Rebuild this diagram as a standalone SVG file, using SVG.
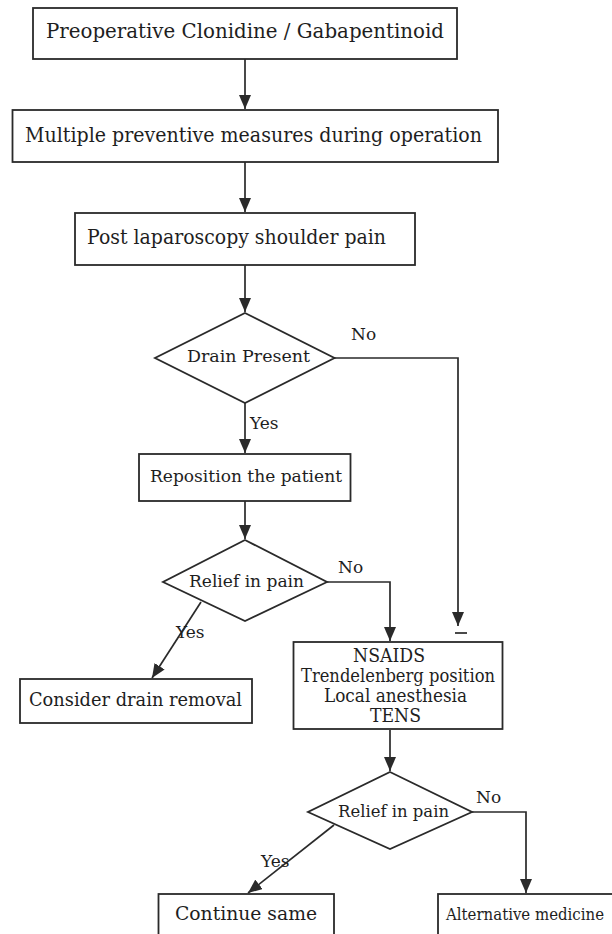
<svg xmlns="http://www.w3.org/2000/svg" width="612" height="934" viewBox="0 0 612 934">
<defs>
<marker id="ah" markerUnits="userSpaceOnUse" markerWidth="15" markerHeight="12" refX="14" refY="6" orient="auto">
<path d="M0,0 L14,6 L0,12 z" fill="#2a2a2a"/>
</marker>
<style>
.box{fill:#fff;stroke:#2a2a2a;stroke-width:1.8}
.t{font-family:"DejaVu Serif","Liberation Serif",serif;font-size:17px;fill:#1e1e1e}
.big{font-size:20px}
.mid{font-size:18px}
.c{fill:none;stroke:#2a2a2a;stroke-width:1.7}
</style>
</defs>
<rect width="612" height="934" fill="#fff"/>
<g id="connectors">
<path class="c" d="M245,58 V109" marker-end="url(#ah)"/>
<path class="c" d="M245,162 V212" marker-end="url(#ah)"/>
<path class="c" d="M245,265 V312" marker-end="url(#ah)"/>
<path class="c" d="M334,358 H458 V626" marker-end="url(#ah)"/>
<path class="c" d="M455,633 H467"/>
<path class="c" d="M245,403 V453" marker-end="url(#ah)"/>
<path class="c" d="M245,501 V539" marker-end="url(#ah)"/>
<path class="c" d="M327,582 H390 V641" marker-end="url(#ah)"/>
<path class="c" d="M201,602 L152,678" marker-end="url(#ah)"/>
<path class="c" d="M390,730 V771" marker-end="url(#ah)"/>
<path class="c" d="M472,812 H526 V893" marker-end="url(#ah)"/>
<path class="c" d="M334,825 L248,893" marker-end="url(#ah)"/>
<text class="t" x="351" y="340">No</text>
<text class="t" x="250" y="429">Yes</text>
<text class="t" x="338" y="573">No</text>
<text class="t" x="176" y="638">Yes</text>
<text class="t" x="476" y="803">No</text>
<text class="t" x="261" y="867">Yes</text>
</g>
<g id="n1">
<rect class="box" x="33" y="8" width="424" height="51"/>
<text class="t big" x="46" y="38" textLength="398" lengthAdjust="spacingAndGlyphs">Preoperative Clonidine / Gabapentinoid</text>
</g>
<g id="n2">
<rect class="box" x="12.5" y="110" width="485.5" height="52"/>
<text class="t big" x="25" y="142" textLength="457" lengthAdjust="spacingAndGlyphs">Multiple preventive measures during operation</text>
</g>
<g id="n3">
<rect class="box" x="75" y="213" width="340" height="52"/>
<text class="t big" x="87" y="244" textLength="299" lengthAdjust="spacingAndGlyphs">Post laparoscopy shoulder pain</text>
</g>
<g id="n4">
<polygon class="box" points="245,313 334.5,358 245,403 155,358"/>
<text class="t" x="187" y="362" textLength="123" lengthAdjust="spacingAndGlyphs">Drain Present</text>
</g>
<g id="n5">
<rect class="box" x="139" y="454" width="211.5" height="47"/>
<text class="t" x="150" y="482" textLength="192" lengthAdjust="spacingAndGlyphs">Reposition the patient</text>
</g>
<g id="n6">
<polygon class="box" points="245,540 327,582 245,621 163,582"/>
<text class="t" x="189" y="587" textLength="115" lengthAdjust="spacingAndGlyphs">Relief in pain</text>
</g>
<g id="n7">
<rect class="box" x="20" y="679" width="232" height="44"/>
<text class="t" style="font-size:18px" x="29" y="706" textLength="213" lengthAdjust="spacingAndGlyphs">Consider drain removal</text>
</g>
<g id="n8">
<rect class="box" x="293.5" y="642" width="209" height="87"/>
<text class="t mid" x="353" y="662" textLength="72" lengthAdjust="spacingAndGlyphs">NSAIDS</text>
<text class="t mid" x="301" y="682" textLength="194" lengthAdjust="spacingAndGlyphs">Trendelenberg position</text>
<text class="t mid" x="324" y="702" textLength="143" lengthAdjust="spacingAndGlyphs">Local anesthesia</text>
<text class="t mid" x="370" y="722" textLength="51" lengthAdjust="spacingAndGlyphs">TENS</text>
</g>
<g id="n9">
<polygon class="box" points="390,772 472,812 390,849 308,812"/>
<text class="t" x="338" y="817" textLength="111" lengthAdjust="spacingAndGlyphs">Relief in pain</text>
</g>
<g id="n10">
<rect class="box" x="158.5" y="894" width="175.5" height="50"/>
<text class="t" style="font-size:18px" x="175" y="920" textLength="142" lengthAdjust="spacingAndGlyphs">Continue same</text>
</g>
<g id="n11">
<rect class="box" x="438" y="894" width="180" height="50"/>
<text class="t" style="font-size:16px" x="446" y="920" textLength="158" lengthAdjust="spacingAndGlyphs">Alternative medicine</text>
</g>
</svg>
